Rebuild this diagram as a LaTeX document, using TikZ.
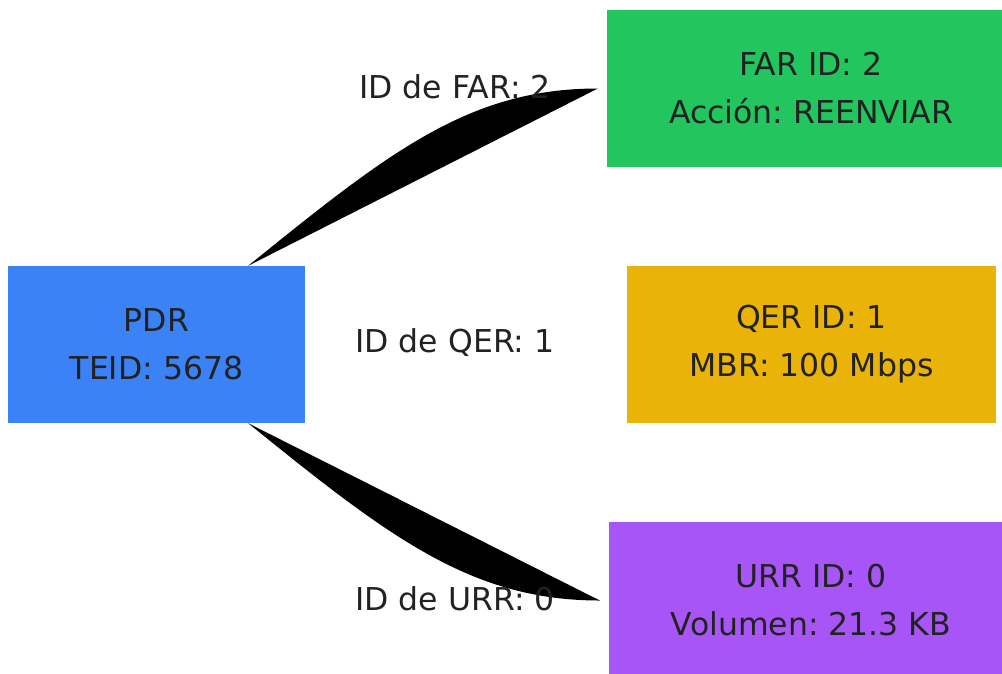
\documentclass[tikz,border=0pt]{standalone}
\usepackage{fontspec}
\setmainfont{DejaVu Sans}
\usepackage{tikz}
\usetikzlibrary{positioning, calc}
\definecolor{pdrblue}{HTML}{3B82F6}
\definecolor{fargreen}{HTML}{22C55E}
\definecolor{qeryellow}{HTML}{EAB308}
\definecolor{urrpurple}{HTML}{A855F7}
\definecolor{txtgray}{HTML}{222222}

\begin{document}
\begin{tikzpicture}[x=1pt, y=-1pt,
        rule/.style={rectangle, inner sep=0pt, minimum height=157pt, align=center,
            text=txtgray, font=\fontsize{31.5}{48}\selectfont\frenchspacing},
        lbl/.style={inner sep=0pt, text=txtgray, font=\fontsize{31.5}{48}\selectfont\frenchspacing},
        link/.style={fill=black}]
            \useasboundingbox (0,0) rectangle (1002,673);
            \clip (0,0) rectangle (1002,673);
            \node[rule, fill=pdrblue, minimum width=297pt] (pdr) at (156.5,344.5) {PDR\\TEID: 5678};
            \node[rule, fill=fargreen, minimum width=408pt] (far) at (811,88.5) {FAR ID: 2\\Acción: REENVIAR};
            \node[rule, fill=qeryellow, minimum width=369pt] (qer) at (811.5,344.5) {QER ID: 1\\MBR: 100 Mbps};
            \node[rule, fill=urrpurple, minimum width=404pt] (urr) at (811,600.5) {URR ID: 0\\Volumen: 21.3 KB};
            % ends of the links
            \coordinate (pf) at ([xshift=-57pt]pdr.north east);
            \coordinate (pu) at ([xshift=-57pt]pdr.south east);
            \coordinate (ef) at ([xshift=-9pt]far.west);
            \coordinate (eu) at ([xshift=-9pt]urr.west);
            \fill[link] (pf) .. controls +(142,-115) and +(-128,0) .. (ef) -- cycle;
            \fill[link] (pu) .. controls +(142,115) and +(-128,0) .. (eu) -- cycle;
            % labels
            \node[lbl] (lfar) at (455,86.5) {ID de FAR: 2};
            \node[lbl] (lqer) at (455,342.5) {ID de QER: 1};
            \node[lbl] (lurr) at (455,598.5) {ID de URR: 0};
        \end{tikzpicture}
\end{document}
